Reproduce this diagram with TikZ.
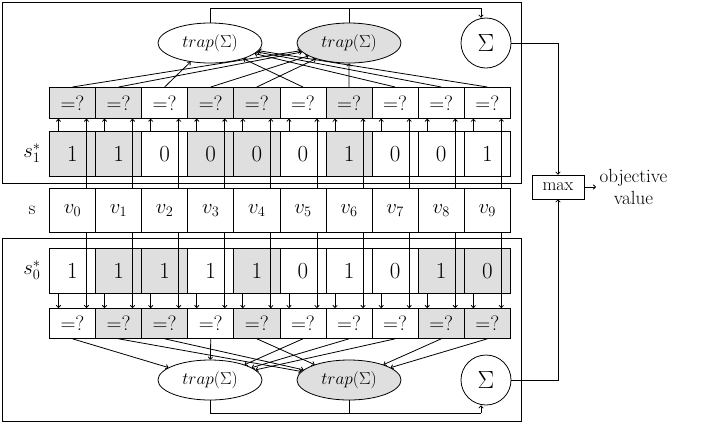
\documentclass[tikz,border=0pt]{standalone}
\usetikzlibrary{shapes.geometric,arrows.meta}
\begin{document}
\begin{tikzpicture}[x=1pt,y=-1pt,line width=0.8pt,
 cell/.style={draw,minimum width=46.1pt,inner sep=0pt,anchor=north west},
 g/.style={fill=gray!25},
 tr/.style={draw,ellipse,minimum width=104pt,minimum height=40pt,inner sep=0pt,font=\fontsize{17}{19}\selectfont},
 sm/.style={draw,circle,minimum size=50pt,inner sep=0pt,font=\fontsize{34}{36}\selectfont},
 ar/.style={-{To[length=3pt,width=5pt]}}]
\useasboundingbox (0,0) rectangle (706,424);
\draw (2,2) rectangle (521,183);
\draw (2,238) rectangle (521,421);
\foreach \i/\a/\b/\ta/\tb/\va/\vb in {0/1/1/g/{}/g/{},1/1/1/g/g/g/g,2/0/1/{}/g/{}/g,3/0/1/g/{}/g/{},4/0/1/g/g/g/g,5/0/0/{}/{}/{}/{},6/1/1/g/{}/g/{},7/0/0/{}/{}/{}/{},8/0/1/{}/g/{}/g,9/1/0/{}/g/{}/g}{
  \node[cell,minimum height=45pt,\ta,font=\fontsize{23}{25}\selectfont] (a\i) at ({49+46.1*\i},131) {\a};
  \node[cell,minimum height=31pt,\va,font=\fontsize{21}{23}\selectfont] (p\i) at ({49+46.1*\i},87) {$=?$};
  \node[cell,minimum height=44pt,font=\fontsize{20}{22}\selectfont] (v\i) at ({49+46.1*\i},188) {$v_{\i}$};
  \node[cell,minimum height=45pt,\tb,font=\fontsize{23}{25}\selectfont] (b\i) at ({49+46.1*\i},248) {\b};
  \node[cell,minimum height=30pt,\vb,font=\fontsize{21}{23}\selectfont] (q\i) at ({49+46.1*\i},308) {$=?$};
  \draw[ar] ([xshift=-14pt]a\i.north) -- ([xshift=-14pt]p\i.south);
  \draw[ar] ([xshift=14pt]v\i.north) -- ([xshift=14pt]p\i.south);
  \draw[ar] ([xshift=-14pt]b\i.south) -- ([xshift=-14pt]q\i.north);
  \draw[ar] ([xshift=14pt]v\i.south) -- ([xshift=14pt]q\i.north);
}
\node[font=\fontsize{22}{24}\selectfont] (l1) at (32,153) {$s_1^*$};
\node[font=\fontsize{19}{21}\selectfont] (ls) at (32,210) {s};
\node[font=\fontsize{22}{24}\selectfont] (l0) at (32,270) {$s_0^*$};
\node[tr] (tw) at (210,43) {$trap(\Sigma)$};
\node[tr,g] (tg) at (349,43) {$trap(\Sigma)$};
\node[sm] (ts) at (486,43) {$\Sigma$};
\node[tr] (bw) at (210,380) {$trap(\Sigma)$};
\node[tr,g] (bg) at (349,380) {$trap(\Sigma)$};
\node[sm] (bs) at (486,380) {$\Sigma$};
\foreach \i in {0,1,3,4,6}{\draw[ar] (p\i.north) -- (tg);}
\foreach \i in {2,5,7,8,9}{\draw[ar] (p\i.north) -- (tw);}
\foreach \i in {1,2,4,8,9}{\draw[ar] (q\i.south) -- (bg);}
\foreach \i in {0,3,5,6,7}{\draw[ar] (q\i.south) -- (bw);}
\coordinate (tt) at (481,8);
\coordinate (bb) at (481,413);
\draw (tw.north) |- (tt) (tg.north) |- (tt);
\draw[ar] (tt) -- (ts.north -| tt);
\draw (bw.south) |- (bb) (bg.south) |- (bb);
\draw[ar] (bb) -- (bs.south -| bb);
\node[draw,minimum width=52pt,minimum height=24pt,inner sep=0pt,font=\fontsize{18}{20}\selectfont] (mx) at (558,187) {max};
\draw[ar] (ts.east) -| (mx.north);
\draw[ar] (bs.east) -| (mx.south);
\node[align=center,font=\fontsize{19}{22}\selectfont,anchor=west] (ov) at (596,187) {objective\\value};
\draw[ar] (mx.east) -- (ov.west);
\end{tikzpicture}
\end{document}
